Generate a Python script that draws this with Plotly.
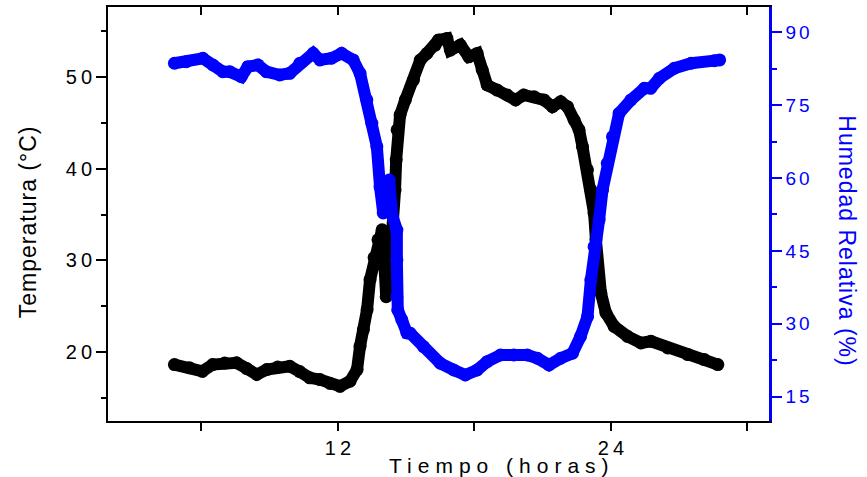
import plotly.graph_objects as go

# Temperature series (black), time in hours
temp_t = [4.81, 5.47, 6.04, 6.49, 7.02, 7.54, 7.99, 8.43, 8.87, 9.35, 9.88, 10.32, 10.76,
          11.21, 11.65, 12.09, 12.53, 12.84, 12.97, 13.12, 13.28, 13.41, 13.59, 13.76, 13.94,
          14.03, 14.12, 14.25, 14.43, 14.51, 14.56, 14.60, 14.73, 14.96, 15.32, 15.62, 15.91,
          16.28, 16.42, 16.79, 16.94, 17.38, 17.75, 18.12, 18.34, 18.56, 19.00, 19.44, 19.81,
          20.17, 20.62, 21.06, 21.43, 21.79, 22.09, 22.38, 22.60, 22.75, 22.97, 23.12, 23.26,
          23.34, 23.41, 23.56, 23.78, 24.14, 24.73, 25.32, 25.76, 26.50, 27.38, 28.11, 28.70]
temp_v = [18.66, 18.33, 17.93, 18.66, 18.83, 18.85, 18.23, 17.58, 18.12, 18.39, 18.48, 17.90, 17.22,
          17.03, 16.60, 16.30, 16.85, 18.12, 20.65, 22.47, 24.64, 27.90, 30.30, 32.25, 33.34,
          30.08, 26.05, 28.45, 33.34, 37.68, 40.95, 44.21, 45.84, 47.47, 49.64, 51.81, 52.54,
          53.45, 53.99, 54.17, 52.90, 53.45, 52.17, 52.54, 50.73, 49.10, 48.55, 48.01, 47.47,
          48.01, 47.83, 47.47, 46.74, 47.28, 46.74, 45.29, 44.21, 42.39, 39.86, 37.68, 35.15,
          32.25, 29.35, 26.46, 24.28, 22.83, 21.74, 21.02, 21.20, 20.48, 19.75, 19.21, 18.66]

# Relative humidity series (blue)
hum_t = [4.81, 5.33, 6.06, 6.50, 6.94, 7.24, 7.75, 8.04, 8.48, 8.85, 9.44, 9.88, 10.32, 10.91,
         11.21, 11.72, 12.16, 12.67, 12.97, 13.27, 13.49, 13.71, 13.85, 13.99, 14.12, 14.25,
         14.38, 14.59, 14.59, 14.59, 14.63, 14.81, 15.03, 15.18, 15.76, 16.50, 17.09, 17.60,
         18.12, 18.56, 19.15, 19.73, 20.32, 20.77, 21.28, 21.79, 22.31, 22.66, 22.97, 23.12,
         23.26, 23.48, 23.63, 23.84, 24.07, 24.36, 24.88, 25.47, 25.75, 26.13, 26.79, 27.53,
         28.55, 28.78]
hum_v = [83.62, 83.95, 84.65, 83.27, 81.89, 81.89, 80.86, 82.92, 83.27, 81.89, 81.21, 81.56, 83.62,
         85.68, 84.30, 84.65, 85.68, 84.30, 81.56, 76.07, 71.27, 66.46, 58.16, 52.81, 55.49, 59.60,
         52.40, 49.31, 43.14, 35.53, 32.86, 30.80, 28.12, 28.05, 25.30, 21.88, 20.50, 19.47,
         20.50, 22.21, 23.59, 23.59, 23.59, 22.91, 21.53, 22.91, 23.94, 27.35, 31.47, 39.02,
         45.88, 51.37, 57.54, 63.04, 68.51, 73.33, 76.07, 78.48, 78.48, 80.53, 82.59, 83.62,
         84.16, 84.30]

x_tickvals = [6, 12, 18, 24, 30]
x_ticktext = ["", "12", "", "24", ""]
yl_tickvals = [20, 30, 40, 50]
yl_minor = [15, 25, 35, 45, 55]
yr_tickvals = [15, 30, 45, 60, 75, 90]
yr_minor = [22.5, 37.5, 52.5, 67.5, 82.5]

FONT = "Liberation Sans, Arial, sans-serif"
BLUE = "#0000FF"


def spaced(s, ls):
    return '<span style="letter-spacing:%dpx">%s</span>' % (ls, s)


def thin(s):
    return "\u2009".join(s)


fig = go.Figure()
fig.add_trace(go.Scatter(x=temp_t, y=temp_v, mode="lines+markers",
                         line=dict(color="black", width=12),
                         marker=dict(color="black", size=13),
                         xaxis="x", yaxis="y", showlegend=False))
fig.add_trace(go.Scatter(x=hum_t, y=hum_v, mode="lines+markers",
                         line=dict(color=BLUE, width=12),
                         marker=dict(color=BLUE, size=13),
                         xaxis="x", yaxis="y2", showlegend=False))
# invisible trace to activate the top axis
fig.add_trace(go.Scatter(x=[temp_t[0]], y=[temp_v[0]], mode="markers",
                         marker=dict(opacity=0), xaxis="x2", yaxis="y",
                         showlegend=False, hoverinfo="skip"))

xr = [1.89, 30.95]
fig.update_layout(
    width=867, height=477,
    margin=dict(l=108, r=98, t=7, b=56),
    paper_bgcolor="white", plot_bgcolor="white",
    font=dict(family=FONT, color="black"),
    xaxis=dict(range=xr, tickmode="array", tickvals=x_tickvals,
               ticktext=[thin(t) for t in x_ticktext],
               ticks="outside", ticklen=8, tickwidth=2, tickcolor="black",
               showline=True, linecolor="black", linewidth=2, mirror=False,
               showgrid=False, zeroline=False,
               tickfont=dict(size=20, color="black", family=FONT)),
    xaxis2=dict(range=xr, overlaying="x", side="top", anchor="y",
                tickmode="array", tickvals=x_tickvals, showticklabels=False,
                ticks="inside", ticklen=8, tickwidth=2, tickcolor="black",
                showline=True, linecolor="black", linewidth=2,
                showgrid=False, zeroline=False),
    yaxis=dict(range=[12.52, 57.59], tickmode="array", tickvals=yl_tickvals,
               ticktext=[thin(str(v)) for v in yl_tickvals],
               ticks="outside", ticklen=10, tickwidth=2, tickcolor="black",
               minor=dict(tickvals=yl_minor, ticks="outside", ticklen=5,
                          tickwidth=2, tickcolor="black", showgrid=False),
               showline=True, linecolor="black", linewidth=2,
               showgrid=False, zeroline=False,
               tickfont=dict(size=20, color="black", family=FONT)),
    yaxis2=dict(range=[10.0, 95.2], overlaying="y", side="right", anchor="x",
                tickmode="array", tickvals=yr_tickvals,
                ticktext=[spaced(str(v), 3) for v in yr_tickvals],
                ticks="outside", ticklen=10, tickwidth=2, tickcolor=BLUE,
                minor=dict(tickvals=yr_minor, ticks="outside", ticklen=5,
                           tickwidth=2, tickcolor=BLUE, showgrid=False),
                showline=True, linecolor=BLUE, linewidth=2.5,
                showgrid=False, zeroline=False,
                tickfont=dict(size=19, color=BLUE, family=FONT)),
    annotations=[
        dict(text=spaced("Tiempo (horas)", 6), xref="paper", yref="paper",
             x=(502 - 108) / 661, y=(421 - 465) / 414, xanchor="center", yanchor="middle",
             showarrow=False, font=dict(size=21, color="black", family=FONT)),
        dict(text=spaced("Temperatura (°C)", 1), xref="paper", yref="paper",
             x=(27.5 - 108) / 661, y=(421 - 221.7) / 414, xanchor="center", yanchor="middle",
             textangle=-90, showarrow=False, font=dict(size=23, color="black", family=FONT)),
        dict(text=spaced("Humedad Relativa (%)", 1), xref="paper", yref="paper",
             x=(846.7 - 108) / 661, y=(421 - 241) / 414, xanchor="center", yanchor="middle",
             textangle=90, showarrow=False, font=dict(size=23, color=BLUE, family=FONT)),
    ],
)

fig.write_html("out.html", config={"displayModeBar": False},
               post_script="document.body.style.margin='0';document.body.style.overflow='hidden';")
